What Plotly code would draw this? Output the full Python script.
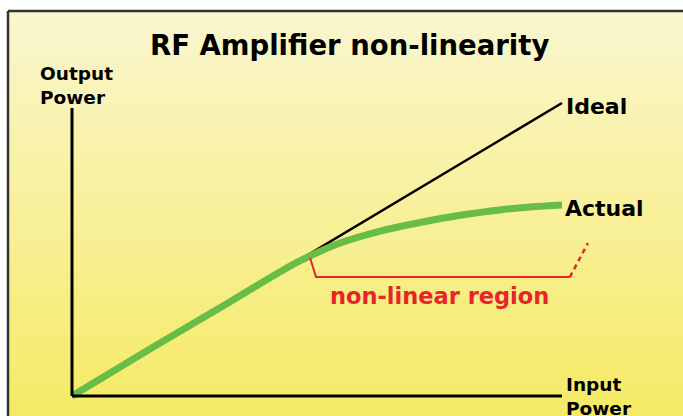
import plotly.graph_objects as go

# ---- data ----
input_power = [0, 1.59, 3.22, 4.24, 4.65, 5.47, 6.29, 7.10, 7.92, 8.73, 9.35, 10.0]
actual_output = [0, 1.60, 3.21, 4.23, 4.61, 5.22, 5.63, 5.92, 6.17, 6.35, 6.45, 6.52]
ideal_input = [0, 10]
ideal_output = [0, 10]
region_start = 4.86
region_end = 10.16
y_axis_top = 9.83
x_axis_end = 10.0

TITLE = "RF Amplifier non-linearity"
FONT = "DejaVu Sans"

W, H = 683, 416
# pixel mapping helpers for layout ranges (origin at pixel 72,396)
px_per_x = 49.0
px_per_y = 29.3
ox, oy = 72, 396
xr = [-ox / px_per_x, (W - ox) / px_per_x]
yr = [-(H - oy) / px_per_y, oy / px_per_y]

fig = go.Figure()

# background gradient bands (paper coordinates)
shapes = []
top_px, bot_px = 12, H
c_top = (250, 246, 206)
c_bot = (245, 234, 100)
n = 60
for i in range(n):
    y0p = top_px + (bot_px - top_px) * i / n
    y1p = top_px + (bot_px - top_px) * (i + 1) / n
    t = (i + 0.5) / n
    c = tuple(round(c_top[k] + (c_bot[k] - c_top[k]) * t) for k in range(3))
    shapes.append(dict(type="rect", xref="paper", yref="paper",
                       x0=9 / W, x1=1, y0=1 - y1p / H - 0.001, y1=1 - y0p / H,
                       fillcolor="rgb(%d,%d,%d)" % c, line_width=0, layer="below"))
# frame border (top and left)
shapes.append(dict(type="line", xref="paper", yref="paper", x0=8 / W, x1=1,
                   y0=1 - 11 / H, y1=1 - 11 / H, line=dict(color="#333333", width=2.5)))
shapes.append(dict(type="line", xref="paper", yref="paper", x0=8 / W, x1=8 / W,
                   y0=1 - 11 / H, y1=0, line=dict(color="#333333", width=2.5)))
# axes
shapes.append(dict(type="line", x0=0, x1=0, y0=0, y1=y_axis_top,
                   line=dict(color="black", width=3)))
shapes.append(dict(type="line", x0=0, x1=x_axis_end, y0=0, y1=0,
                   line=dict(color="black", width=3)))

# ideal line
fig.add_trace(go.Scatter(x=ideal_input, y=ideal_output, mode="lines",
                         line=dict(color="black", width=2.5), hoverinfo="skip"))
# actual curve
fig.add_trace(go.Scatter(x=input_power, y=actual_output, mode="lines",
                         line=dict(color="#67BD45", width=7, shape="spline", smoothing=1.0),
                         hoverinfo="skip"))

# non-linear region bracket
br_low = 4.06
fig.add_trace(go.Scatter(x=[region_start, region_start + 0.12, region_end],
                         y=[4.71, br_low, br_low], mode="lines",
                         line=dict(color="#E8232B", width=2), hoverinfo="skip"))
fig.add_trace(go.Scatter(x=[region_end, region_end + 0.37],
                         y=[br_low, br_low + 1.16], mode="lines",
                         line=dict(color="#E8232B", width=2.5, dash="5px,4px"),
                         hoverinfo="skip"))

ann = []
def px_ann(text, x, y, size, color="black", xanchor="left", yanchor="middle", bold=True, align="left"):
    ann.append(dict(text=("<b>%s</b>" % text) if bold else text,
                    xref="paper", yref="paper", x=x / W, y=1 - y / H,
                    xanchor=xanchor, yanchor=yanchor, showarrow=False, align=align,
                    font=dict(family=FONT, size=size, color=color)))

px_ann(TITLE, 349, 45, 27.5, xanchor="center")
px_ann("Output<br>Power", 38, 85, 18.5)
px_ann("Ideal", 564, 106, 22)
px_ann("Actual", 563, 208, 22)
px_ann("Input<br>Power", 564, 396, 18.5)
px_ann("non-linear region", 439, 296, 22.5, color="#E8232B", xanchor="center")

fig.update_layout(
    width=W, height=H,
    margin=dict(l=0, r=0, t=0, b=0),
    paper_bgcolor="white", plot_bgcolor="rgba(0,0,0,0)",
    showlegend=False,
    xaxis=dict(range=xr, visible=False, fixedrange=True),
    yaxis=dict(range=yr, visible=False, fixedrange=True),
    shapes=shapes, annotations=ann,
)

fig.write_html("out.html", config={"displayModeBar": False},
               post_script="document.body.style.margin='0px';document.body.style.overflow='hidden';")
